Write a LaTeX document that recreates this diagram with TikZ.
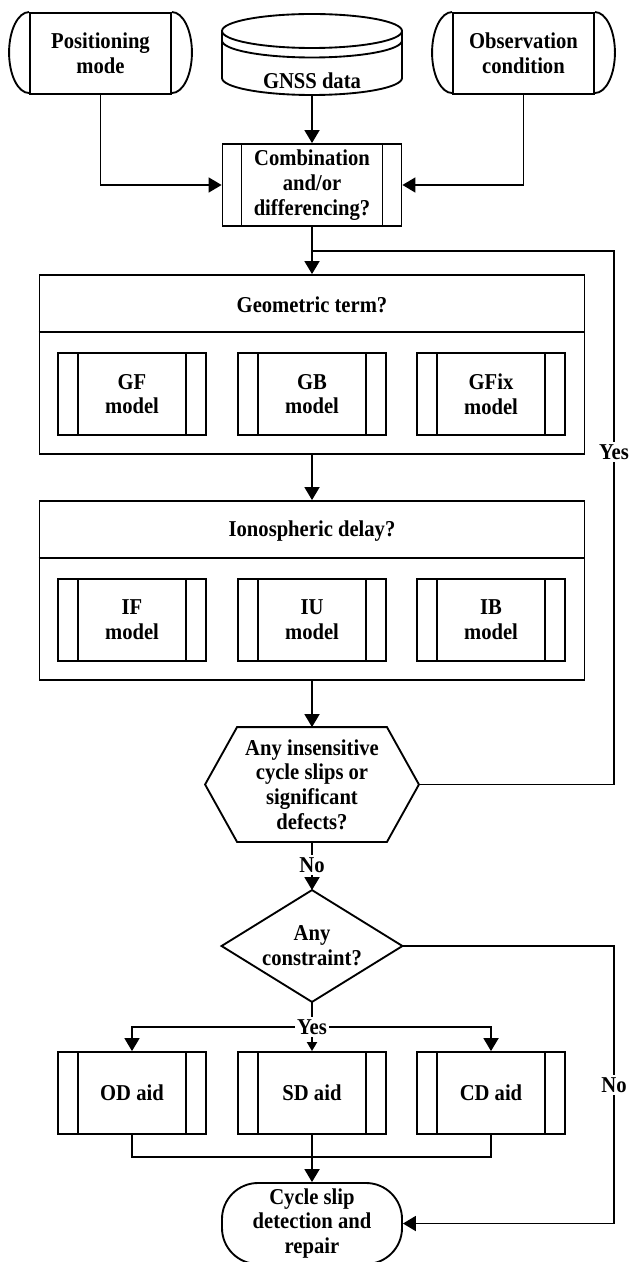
\documentclass[tikz,border=0pt]{standalone}
\usepackage{fontspec}
\setmainfont{Liberation Serif}[FakeStretch=0.91]
\usetikzlibrary{arrows.meta,calc}
\newcommand{\boxfont}{\fontsize{17}{18.5}\selectfont\bfseries}
\begin{document}
\begin{tikzpicture}[x=0.75pt,y=-0.75pt,line width=1.4pt,
  >={Triangle[length=9.75pt,width=11.25pt]},
  base/.style={inner sep=0pt,align=center,font=\boxfont},
  box/.style={base,draw,rectangle},
  sub/.style={box,minimum width=111pt,minimum height=61.5pt,
    path picture={
      \draw ([xshift=15pt]path picture bounding box.north west) -- ([xshift=15pt]path picture bounding box.south west);
      \draw ([xshift=-15pt]path picture bounding box.north east) -- ([xshift=-15pt]path picture bounding box.south east);}},
  combbox/.style={box,minimum width=134.25pt,minimum height=61.5pt,
    path picture={
      \draw ([xshift=14.25pt]path picture bounding box.north west) -- ([xshift=14.25pt]path picture bounding box.south west);
      \draw ([xshift=-14.25pt]path picture bounding box.north east) -- ([xshift=-14.25pt]path picture bounding box.south east);}},
  inbox/.style={box,minimum width=105.75pt,minimum height=60.75pt},
  bigbox/.style={box,minimum width=408.75pt,minimum height=134.25pt},
  ghost/.style={base,rectangle},
  lab/.style={base,fill=white,inner sep=1.5pt},
  smallarrow/.style={-{Triangle[length=6.75pt,width=7.5pt]}}
]
\useasboundingbox (0,0) rectangle (630,1262);

% ---- top inputs ----
\node[inbox] (pm) at (100.5,53.5) {Positioning\\mode};
\draw (pm.north west) arc[start angle=90,end angle=270,x radius=15pt,y radius=30.375pt];
\draw (pm.north east) arc[start angle=90,end angle=-90,x radius=15pt,y radius=30.375pt];

\node[inbox] (obs) at (523.5,53.5) {Observation\\condition};
\draw (obs.north west) arc[start angle=90,end angle=270,x radius=15pt,y radius=30.375pt];
\draw (obs.north east) arc[start angle=90,end angle=-90,x radius=15pt,y radius=30.375pt];

% GNSS cylinder
\node[ghost,minimum width=135pt,minimum height=60.75pt] (gnss) at (312,54.5) {};
\draw (312,31) ellipse[x radius=67.5pt,y radius=12.75pt];
\draw (222,40.5) arc[start angle=180,end angle=360,x radius=67.5pt,y radius=12.75pt];
\draw (222,31) -- (222,78) arc[start angle=180,end angle=360,x radius=67.5pt,y radius=12.75pt] -- (402,31);
\node[base] (gnsst) at (312,81) {GNSS data};

% ---- combination ----
\node[combbox] (comb) at (312,185) {Combination\\and/or\\differencing?};

% ---- geometric ----
\node[bigbox] (geo) at (312,364.5) {};
\draw ($(geo.north west)+(0,58)$) -- ($(geo.north east)+(0,58)$);
\node[base] (geot) at (312,305) {Geometric term?};
\node[sub] (gf) at (132,394) {GF\\model};
\node[sub] (gb) at (312,394) {GB\\model};
\node[sub] (gfix) at (491,394) {GFix\\model};

% ---- ionospheric ----
\node[bigbox] (ion) at (312,590.5) {};
\draw ($(ion.north west)+(0,58)$) -- ($(ion.north east)+(0,58)$);
\node[base] (iont) at (312,531) {Ionospheric delay?};
\node[sub] (if) at (132,620) {IF\\model};
\node[sub] (iu) at (312,620) {IU\\model};
\node[sub] (ib) at (491,620) {IB\\model};

% ---- hexagon ----
\node[ghost,minimum width=159pt,minimum height=84.75pt] (hex) at (312,784.5)
  {Any insensitive\\cycle slips or\\significant\\defects?};
\draw ($(hex.north west)+(32,0)$) -- ($(hex.north east)+(-32,0)$) -- (hex.east)
  -- ($(hex.south east)+(-32,0)$) -- ($(hex.south west)+(32,0)$) -- (hex.west) -- cycle;

% ---- diamond ----
\node[ghost,minimum width=134.25pt,minimum height=82.5pt] (dia) at (312,946) {Any\\constraint?};
\draw (dia.north) -- (dia.east) -- (dia.south) -- (dia.west) -- cycle;

% ---- aids ----
\node[sub] (od) at (132,1093) {OD aid};
\node[sub] (sd) at (312,1093) {SD aid};
\node[sub] (cd) at (491,1093) {CD aid};

% ---- terminal ----
\node[box,rounded corners=27pt,minimum width=135pt,minimum height=60.75pt] (term) at (312,1223.5)
  {Cycle slip\\detection and\\repair};

% ---- connectors ----
\draw[->] (pm.south) |- (comb.west);
\draw[->] (obs.south) |- (comb.east);
\draw[->] (gnss.south) -- (comb.north);
\draw[->] (comb.south) -- (geo.north);
\coordinate (fbR) at (614,251);
\coordinate (fbL) at (312,251);
\draw (hex.east) -| (fbR) -- (fbL);
\node[lab] (yes1) at (614,452) {Yes};
\draw[->] (geo.south) -- (ion.north);
\draw[->] (ion.south) -- (hex.north);
\draw[->] (hex.south) -- (dia.north);
\node[lab] (no1) at (312,865) {No};

\coordinate (nr) at (614,1223.5);
\draw[->] (dia.east) -| (nr) -- (term.east);
\node[lab] (no2) at (614,1085) {No};

\coordinate (ysplit) at (312,1027);
\draw (dia.south) -- (ysplit);
\draw[->] (ysplit) -| (od.north);
\draw[->] (ysplit) -| (cd.north);
\draw[smallarrow] (ysplit) -- (sd.north);
\node[lab] (yes2) at (ysplit) {Yes};

\coordinate (mj) at (312,1157);
\draw (od.south) |- (mj);
\draw (cd.south) |- (mj);
\draw[->] (sd.south) -- (term.north);
\end{tikzpicture}
\end{document}
